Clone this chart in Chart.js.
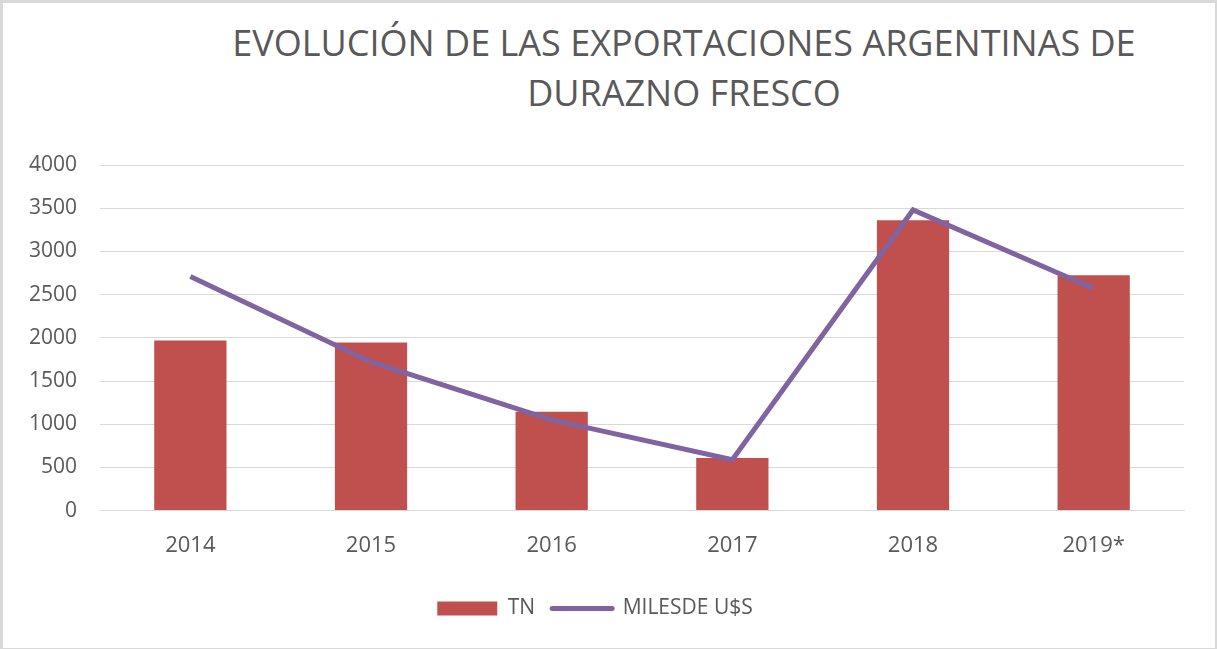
<!DOCTYPE html>
<html>
<head>
<meta charset="utf-8">
<script src="https://cdn.jsdelivr.net/npm/chart.js@4.4.1/dist/chart.umd.min.js"></script>
<style>
  html, body { margin: 0; padding: 0; background: #fff; }
  #wrap {
    position: relative;
    width: 1217px;
    height: 649px;
    box-sizing: border-box;
    border: 3px solid #d9d9d9;
    border-bottom-width: 1px;
    border-right-width: 2px;
    overflow: hidden;
  }
  #title {
    position: absolute;
    top: 15px;
    left: 150px;
    right: 0;
    text-align: center;
    font-family: "Open Sans", sans-serif;
    font-size: 36px;
    line-height: 50px;
    color: #595959;
  }
  #chart { position: absolute; left: -3px; top: -3px; }
</style>
</head>
<body>
<div id="wrap">
  <div id="title">EVOLUCIÓN DE LAS EXPORTACIONES ARGENTINAS DE<br>DURAZNO FRESCO</div>
  <canvas id="chart" width="1217" height="649"></canvas>
</div>
<script>
// data
const years = ['2014', '2015', '2016', '2017', '2018', '2019*'];
const toneladas = [1970, 1945, 1145, 610, 3360, 2725];
const milesDolares = [2710, 1720, 1050, 590, 3480, 2570];
const yTicks = [0, 500, 1000, 1500, 2000, 2500, 3000, 3500, 4000];

const grey = '#595959';

const exportData = {
  labels: years,
  datasets: [
    {
      type: 'line',
      label: 'MILESDE U$S',
      data: milesDolares,
      borderColor: '#8064a2',
      backgroundColor: '#8064a2',
      borderWidth: 5,
      pointRadius: 0,
      tension: 0,
      order: 0
    },
    {
      type: 'bar',
      label: 'TN',
      data: toneladas,
      backgroundColor: '#c0504d',
      barPercentage: 0.4,
      categoryPercentage: 1,
      order: 1
    }
  ]
};

const exportChart = {
  type: 'bar',
  data: exportData,
  options: {
    responsive: false,
    animation: false,
    layout: {
      padding: { top: 165, left: 6, right: 33, bottom: 20 }
    },
    plugins: {
      legend: {
        position: 'bottom',
        labels: {
          color: grey,
          font: { family: 'Open Sans', size: 21 },
          usePointStyle: true,
          pointStyleWidth: 60,
          boxHeight: 14,
          padding: 17,
          generateLabels: function(chart) {
            // bar first, then the line, as in the original
            return chart.data.datasets.map(function(ds, i) {
              const isLine = ds.type === 'line';
              return {
                text: ds.label,
                fillStyle: ds.backgroundColor,
                strokeStyle: isLine ? ds.borderColor : ds.backgroundColor,
                lineWidth: isLine ? 5 : 0,
                lineCap: 'round',
                pointStyle: isLine ? 'line' : 'rect',
                fontColor: grey,
                datasetIndex: i
              };
            }).reverse();
          }
        }
      },
      tooltip: { enabled: false }
    },
    scales: {
      x: {
        grid: { display: false, drawTicks: false },
        border: { color: '#d9d9d9', width: 1 },
        ticks: {
          color: grey,
          font: { family: 'Open Sans', size: 22 },
          padding: 22
        }
      },
      y: {
        min: 0,
        max: 4000,
        afterBuildTicks: function(axis) {
          axis.ticks = yTicks.map(v => ({ value: v }));
        },
        grid: { color: '#d9d9d9', drawTicks: false },
        border: { display: false },
        ticks: {
          color: grey,
          font: { family: 'Open Sans', size: 21 },
          padding: 23,
          callback: function(value) { return String(value); }
        }
      }
    }
  }
};

var myExportChart = new Chart(
  document.getElementById('chart'),
  exportChart
);
</script>
</body>
</html>
